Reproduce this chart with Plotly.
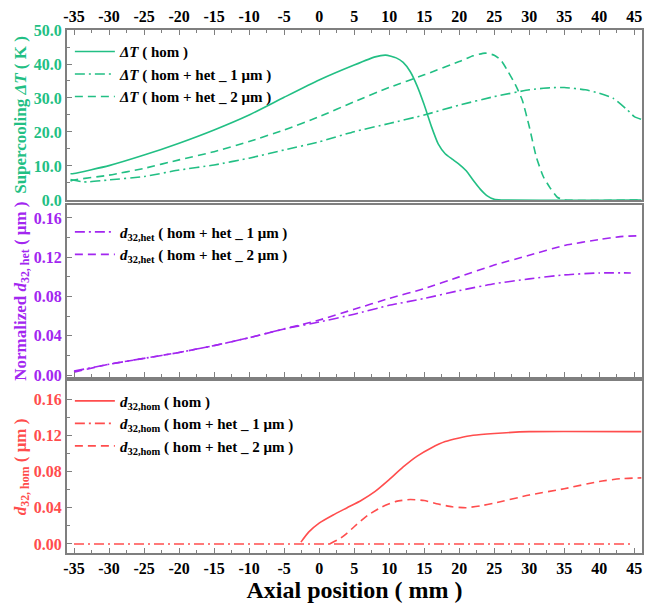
import plotly.graph_objects as go

# ---------------- data ----------------
# Top panel: supercooling dT (K)
x_hom = [-35.5, -35, -30, -25, -20, -15, -10, -5, 0, 5, 8, 9.5, 11, 12, 13, 14, 15, 16, 17, 18, 19, 20, 21, 22, 23, 24, 25, 26, 46]
dT_hom = [7.7, 7.8, 10.1, 13.2, 16.7, 20.6, 25.0, 30.2, 35.3, 39.7, 42.1, 42.6, 41.8, 40.5, 37.8, 33.5, 28.0, 21.8, 16.5, 13.6, 12.0, 10.5, 8.6, 5.8, 3.2, 1.2, 0.2, 0.0, 0.0]

x_1um = [-35.5, -34, -33, -30, -25, -20, -15, -10, -5, 0, 5, 10, 15, 20, 25, 30, 33, 35, 38, 40, 42, 44, 45, 46]
dT_1um = [6.0, 5.4, 5.3, 5.9, 6.9, 8.8, 10.3, 12.3, 14.7, 17.1, 20.1, 22.5, 25.0, 27.9, 30.4, 32.4, 33.0, 33.1, 32.4, 31.4, 29.9, 26.5, 24.5, 23.7]

x_2um = [-35.5, -35, -30, -25, -20, -15, -10, -5, 0, 5, 10, 15, 20, 22, 23.7, 25, 26, 27, 28, 29, 30, 31, 32, 33, 34, 35, 46]
dT_2um = [5.6, 5.9, 7.3, 9.3, 11.8, 14.2, 17.2, 20.6, 24.5, 28.9, 33.1, 36.8, 40.7, 42.4, 43.2, 42.6, 41.0, 37.7, 34.0, 29.4, 21.6, 12.7, 6.9, 3.5, 0.8, 0.0, 0.0]

# Middle panel: normalized d32,het (um)
x_het1 = [-35, -30, -25, -20, -15, -10, -5, 0, 5, 10, 15, 20, 25, 30, 35, 40, 44.5]
d_het1 = [0.004, 0.011, 0.017, 0.023, 0.030, 0.038, 0.047, 0.054, 0.062, 0.071, 0.078, 0.086, 0.093, 0.098, 0.102, 0.104, 0.104]
x_het2 = [-35, -30, -25, -20, -15, -10, -5, 0, 5, 10, 15, 20, 25, 30, 35, 40, 43, 46]
d_het2 = [0.003, 0.011, 0.017, 0.023, 0.030, 0.038, 0.047, 0.056, 0.067, 0.078, 0.088, 0.100, 0.112, 0.122, 0.132, 0.138, 0.141, 0.142]

# Bottom panel: d32,hom (um)
x_hom_d = [-2.6, -1.5, 0, 2, 4, 6, 8, 10, 12, 14, 16, 18, 20, 22, 25, 30, 46]
d_hom_d = [0.002, 0.013, 0.023, 0.032, 0.040, 0.048, 0.058, 0.071, 0.085, 0.097, 0.106, 0.113, 0.117, 0.120, 0.122, 0.124, 0.124]
x_1um_d = [-35, 44.8]
d_1um_d = [0.0, 0.0]
x_2um_d = [1.5, 3, 4, 5, 7, 9, 11, 13, 15, 17, 19, 21, 23, 25, 30, 35, 40, 43, 46]
d_2um_d = [0.0, 0.006, 0.012, 0.019, 0.032, 0.041, 0.047, 0.049, 0.048, 0.044, 0.041, 0.040, 0.042, 0.045, 0.054, 0.061, 0.069, 0.072, 0.073]

x_ticks = [-35, -30, -25, -20, -15, -10, -5, 0, 5, 10, 15, 20, 25, 30, 35, 40, 45]

# ---------------- styling ----------------
GREEN = "#22bf84"
PURPLE = "#a226f0"
RED = "#ff4d4d"
FRAME = "#7f7f7f"
FONT = "Liberation Serif"
LW = 1.6
DASH = "8px,5px"
DASHDOT = "10px,4px,2px,4px"

fig = go.Figure()

def add(x, y, name, color, dash, xa, ya, legend):
    fig.add_trace(go.Scatter(x=x, y=y, name=f"<b>{name}</b>", mode="lines",
                             line=dict(color=color, width=LW, dash=dash, shape="spline", smoothing=0.5),
                             xaxis=xa, yaxis=ya, legend=legend))

DT = "<i>ΔT</i>"
add(x_hom, dT_hom, f"{DT} ( hom )", GREEN, "solid", "x", "y", "legend")
add(x_1um, dT_1um, f"{DT} ( hom + het _ 1 μm )", GREEN, DASHDOT, "x", "y", "legend")
add(x_2um, dT_2um, f"{DT} ( hom + het _ 2 μm )", GREEN, DASH, "x", "y", "legend")

DH = "<i>d</i><sub>32,het</sub>"
add(x_het1, d_het1, f"{DH} ( hom + het _ 1 μm )", PURPLE, DASHDOT, "x2", "y2", "legend2")
add(x_het2, d_het2, f"{DH} ( hom + het _ 2 μm )", PURPLE, DASH, "x2", "y2", "legend2")

DM = "<i>d</i><sub>32,hom</sub>"
add(x_hom_d, d_hom_d, f"{DM} ( hom )", RED, "solid", "x3", "y3", "legend3")
add(x_1um_d, d_1um_d, f"{DM} ( hom + het _ 1 μm )", RED, DASHDOT, "x3", "y3", "legend3")
add(x_2um_d, d_2um_d, f"{DM} ( hom + het _ 2 μm )", RED, DASH, "x3", "y3", "legend3")

XR = [-36, 46.1]
tickfont = dict(family=FONT, size=16, color="black")

def xaxis(side, show_labels, anchor, title=None):
    d = dict(range=XR, tickvals=x_ticks, ticktext=[f"<b>{v}</b>" for v in x_ticks],
             ticks="inside", ticklen=5, tickwidth=1, tickcolor=FRAME,
             minor=dict(ticks="inside", ticklen=3, dtick=2.5, tickcolor=FRAME),
             showline=True, linecolor=FRAME, linewidth=2, mirror=True,
             showgrid=False, zeroline=False, side=side, anchor=anchor,
             showticklabels=show_labels, tickfont=tickfont)
    if title:
        d["title"] = dict(text=title, font=dict(family=FONT, size=24, color="black"), standoff=2)
    return d

def yaxis(domain, rng, tickvals, fmt, color, title, minor_dtick, anchor):
    return dict(domain=domain, range=rng, tickvals=tickvals,
                ticktext=[f"<b>{format(v, fmt)}</b>" for v in tickvals],
                ticks="inside", ticklen=5, tickwidth=1, tickcolor=FRAME,
                minor=dict(ticks="inside", ticklen=3, dtick=minor_dtick, tickcolor=FRAME),
                showline=True, linecolor=FRAME, linewidth=2, mirror=True,
                showgrid=False, zeroline=False, anchor=anchor,
                tickfont=dict(family=FONT, size=16, color=color),
                title=dict(text=title, font=dict(family=FONT, size=17, color=color), standoff=3))

yt1 = [0, 10, 20, 30, 40, 50]
yt2 = [0.0, 0.04, 0.08, 0.12, 0.16]

legfont = dict(family=FONT, size=15, color="black")
fig.update_layout(
    width=646, height=603,
    margin=dict(l=67, r=2, t=30, b=50),
    paper_bgcolor="white", plot_bgcolor="white",
    font=dict(family=FONT, color="black"),
    xaxis=xaxis("top", True, "y"),
    xaxis2=dict(xaxis("bottom", False, "y2"), matches="x"),
    xaxis3=dict(xaxis("bottom", True, "y3", "<b>Axial position ( mm )</b>"), matches="x"),
    yaxis=yaxis([0.675, 1.0], [0, 50], yt1, ".1f", GREEN, "<b>Supercooling <i>ΔT</i> ( K )</b>", 5, "x"),
    yaxis2=yaxis([0.3365, 0.665], [-0.002, 0.173], yt2, ".2f", PURPLE,
                 "<b>Normalized <i>d</i><sub>32, het</sub> ( μm )</b>", 0.02, "x2"),
    yaxis3=yaxis([0, 0.329], [-0.01, 0.18], yt2, ".2f", RED,
                 "<b><i>d</i><sub>32, hom</sub> ( μm )</b>", 0.02, "x3"),
    legend=dict(x=0.005, y=0.99, xanchor="left", yanchor="top", bgcolor="rgba(0,0,0,0)",
                font=legfont, itemwidth=40),
    legend2=dict(x=0.005, y=0.645, xanchor="left", yanchor="top", bgcolor="rgba(0,0,0,0)",
                 font=legfont, itemwidth=40),
    legend3=dict(x=0.005, y=0.322, xanchor="left", yanchor="top", bgcolor="rgba(0,0,0,0)",
                 font=legfont, itemwidth=40),
)

fig.write_html("out.html")
